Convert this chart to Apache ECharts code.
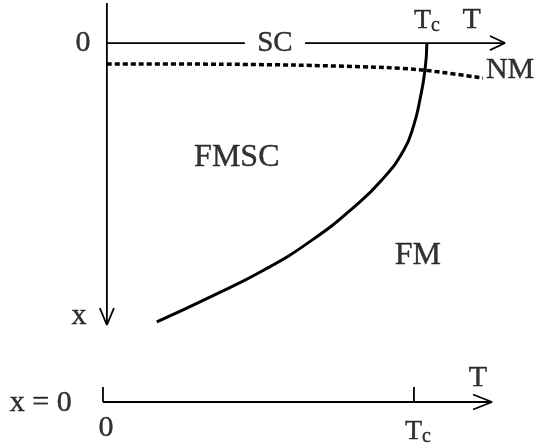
<!DOCTYPE html>
<html>
<head>
<meta charset="utf-8">
<script src="https://cdn.jsdelivr.net/npm/echarts@6/dist/echarts.min.js"></script>
<style>
  html, body { margin: 0; padding: 0; background: #fff; }
  #chart { width: 537px; height: 448px; }
</style>
</head>
<body>
<div id="chart"></div>
<script>
// top panel: T (Tc = 1) across, x (concentration) downward
const tMinTop = -0.334
const tMaxTop = 1.244
const xMinTop = -0.142
const xMaxTop = 1.0

// FM boundary, from Tc at x = 0 down to the lower left
const fmBoundary = [
  [1.0, 0], [0.994, 0.096], [0.978, 0.202], [0.959, 0.291], [0.928, 0.379],
  [0.859, 0.486], [0.772, 0.582], [0.641, 0.699], [0.491, 0.805],
  [0.322, 0.901], [0.156, 0.989]
]
// NM boundary (dashed), just below x = 0
const nmBoundary = [
  [0, 0.074], [0.353, 0.075], [0.58, 0.078], [0.853, 0.086], [0.991, 0.096],
  [1.175, 0.124]
]

// axis pieces of the top panel
const tAxisLeft = [[0, 0], [0.431, 0]]
const tAxisRight = [[0.619, 0], [tMaxTop, 0]]
const tArrow = [[tMaxTop - 0.047, -0.025], [tMaxTop, 0], [tMaxTop - 0.047, 0.025]]
const xAxisLine = [[0, xMinTop], [0, xMaxTop]]
const xArrow = [[-0.022, xMaxTop - 0.06], [0, xMaxTop], [0.022, xMaxTop - 0.06]]

const topLabels = [
  [-0.075, 0, '0'],
  [0.525, 0, 'SC'],
  [1.0, -0.08, 'Tc'],
  [1.14, -0.08, 'T'],
  [1.26, 0.095, 'NM'],
  [0.406, 0.408, 'FMSC'],
  [0.972, 0.755, 'FM'],
  [-0.0875, 0.968, 'x']
]

// bottom panel: x = 0 line
const tMinBottom = -0.3312
const tMaxBottom = 1.251
const bottomAxis = [[0, 0], [tMaxBottom, 0]]
const bottomTickZero = [[0, 0], [0, 1]]
const bottomTickTc = [[1, 0], [1, 1]]
const bottomArrow = [[tMaxBottom - 0.061, 0.5], [tMaxBottom, 0], [tMaxBottom - 0.061, -0.5]]
const bottomLabels = [
  [-0.2, -0.07, 'x = 0'],
  [0.01, -1.73, '0'],
  [1.013, -2.0, 'Tc'],
  [1.206, 1.6, 'T']
]

const font = 'Liberation Serif'
const ink = '#000'
const bigLabels = ['FMSC', 'FM']

function lineSeries(data, idx, width, type) {
  return {
    type: 'line',
    xAxisIndex: idx,
    yAxisIndex: idx,
    data: data,
    showSymbol: false,
    clip: false,
    silent: true,
    lineStyle: { color: ink, width: width, type: type || 'solid' }
  }
}

function labelSeries(data, idx) {
  const txt = (size) => ({
    fontFamily: font, fontSize: size, color: ink,
    textBorderColor: ink, textBorderWidth: 0.4
  })
  return {
    type: 'scatter',
    xAxisIndex: idx,
    yAxisIndex: idx,
    data: data,
    symbolSize: 0,
    clip: false,
    silent: true,
    label: Object.assign(txt(30), {
      show: true,
      position: 'inside',
      formatter: p => {
        const s = p.value[2]
        if (s === 'Tc') return '{t|T}{s|c}'
        if (bigLabels.includes(s)) return '{b|' + s + '}'
        if (s === 'SC') return '{m|' + s + '}'
        return s
      },
      rich: {
        t: txt(28),
        s: Object.assign(txt(20), { padding: [10, 0, 0, 0] }),
        b: txt(32),
        m: txt(29)
      }
    })
  }
}

const chart = echarts.init(document.getElementById('chart'))
chart.setOption({
  animation: false,
  backgroundColor: '#fff',
  grid: [
    { left: 0, top: 3, right: 32, bottom: 123 },
    { left: 0, top: 387, right: 45, bottom: 46 }
  ],
  xAxis: [
    { type: 'value', gridIndex: 0, min: tMinTop, max: tMaxTop, show: false },
    { type: 'value', gridIndex: 1, min: tMinBottom, max: tMaxBottom, show: false }
  ],
  yAxis: [
    { type: 'value', gridIndex: 0, min: xMinTop, max: xMaxTop, inverse: true, show: false },
    { type: 'value', gridIndex: 1, min: 0, max: 1, show: false }
  ],
  series: [
    lineSeries(tAxisLeft, 0, 1.8),
    lineSeries(tAxisRight, 0, 1.8),
    lineSeries(tArrow, 0, 1.8),
    lineSeries(xAxisLine, 0, 1.8),
    lineSeries(xArrow, 0, 1.8),
    Object.assign(lineSeries(fmBoundary, 0, 3), { smooth: 0.5 }),
    Object.assign(lineSeries(nmBoundary, 0, 3.5, [5, 3]), { smooth: 0.2 }),
    labelSeries(topLabels, 0),
    lineSeries(bottomAxis, 1, 1.8),
    lineSeries(bottomTickZero, 1, 1.8),
    lineSeries(bottomTickTc, 1, 1.8),
    lineSeries(bottomArrow, 1, 1.8),
    labelSeries(bottomLabels, 1)
  ]
})
</script>
</body>
</html>
